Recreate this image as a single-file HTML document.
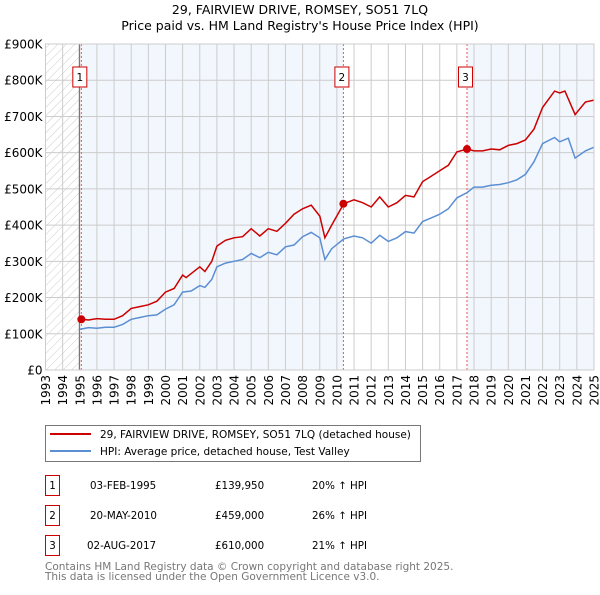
<!DOCTYPE html>
<html><head><meta charset="utf-8"><style>
body{margin:0;background:#fff;}
svg{font-family:"DejaVu Sans","Liberation Sans",sans-serif;}
</style></head><body>
<svg id="c" width="600" height="590" xmlns="http://www.w3.org/2000/svg">
<defs><pattern id="hatch" width="6" height="6" patternUnits="userSpaceOnUse" patternTransform="rotate(45)"><line x1="0" y1="0" x2="0" y2="6" stroke="#ccc" stroke-width="1"/></pattern></defs>
<text x="300" y="14" text-anchor="middle" font-size="12.5">29, FAIRVIEW DRIVE, ROMSEY, SO51 7LQ</text>
<text x="300" y="30" text-anchor="middle" font-size="12.5">Price paid vs. HM Land Registry's House Price Index (HPI)</text>
<g id="plot"></g>
<g>
<rect x="45.5" y="425.5" width="375" height="36" fill="#fff" stroke="#777"/>
<line x1="50" y1="434" x2="91" y2="434" stroke="#cc0000" stroke-width="2"/>
<text x="100" y="438" font-size="10.5">29, FAIRVIEW DRIVE, ROMSEY, SO51 7LQ (detached house)</text>
<line x1="50" y1="451" x2="91" y2="451" stroke="#5b8fd4" stroke-width="2"/>
<text x="100" y="455" font-size="10.5">HPI: Average price, detached house, Test Valley</text>
</g>
<g font-size="10.3">
<rect x="45.5" y="475.5" width="14" height="20" fill="#fff" stroke="#c00"/><text x="52.5" y="489" text-anchor="middle">1</text>
<text x="90" y="489">03-FEB-1995</text><text x="215" y="489">£139,950</text><text x="312" y="489">20% ↑ HPI</text>
<rect x="45.5" y="505.5" width="14" height="20" fill="#fff" stroke="#c00"/><text x="52.5" y="519" text-anchor="middle">2</text>
<text x="90" y="519">20-MAY-2010</text><text x="215" y="519">£459,000</text><text x="312" y="519">26% ↑ HPI</text>
<rect x="45.5" y="535.5" width="14" height="20" fill="#fff" stroke="#c00"/><text x="52.5" y="549" text-anchor="middle">3</text>
<text x="87" y="549">02-AUG-2017</text><text x="215" y="549">£610,000</text><text x="312" y="549">21% ↑ HPI</text>
</g>
<text x="45" y="570" font-size="10.5" fill="#777">Contains HM Land Registry data © Crown copyright and database right 2025.</text>
<text x="45" y="580" font-size="10.5" fill="#777">This data is licensed under the Open Government Licence v3.0.</text>
</svg>
<script>
const hpiYears=[1995.0,1995.5,1996,1996.5,1997,1997.5,1998,1998.5,1999,1999.5,2000,2000.5,2001,2001.5,2002,2002.3,2002.7,2003,2003.5,2004,2004.5,2005,2005.5,2006,2006.5,2007,2007.5,2008,2008.5,2009,2009.3,2009.7,2010.4,2011,2011.5,2012,2012.5,2013,2013.5,2014,2014.5,2015,2015.5,2016,2016.5,2017,2017.6,2018,2018.5,2019,2019.5,2020,2020.5,2021,2021.5,2022,2022.7,2023,2023.5,2023.9,2024.5,2025];
const hpiValues=[112,117,115,118,118,126,140,145,150,152,168,180,215,218,233,228,250,285,295,300,305,322,310,325,318,340,345,368,380,365,305,335,362,370,365,350,372,355,365,382,378,410,420,430,445,475,490,505,505,510,512,517,525,540,575,625,642,630,640,585,605,615];
const priceYears=[1995.1,1995.5,1996,1996.5,1997,1997.5,1998,1998.5,1999,1999.5,2000,2000.5,2001,2001.2,2002,2002.3,2002.7,2003,2003.5,2004,2004.5,2005,2005.5,2006,2006.5,2007,2007.5,2008,2008.5,2009,2009.3,2009.7,2010.4,2011,2011.5,2012,2012.5,2013,2013.5,2014,2014.5,2015,2015.5,2016,2016.5,2017,2017.6,2018,2018.5,2019,2019.5,2020,2020.5,2021,2021.5,2022,2022.7,2023,2023.3,2023.9,2024.5,2025];
const priceValues=[140,138,142,140,140,150,170,175,180,190,215,225,262,255,285,272,300,342,358,365,368,390,370,390,383,405,430,445,455,425,365,400,459,470,462,450,478,450,462,482,478,520,535,550,565,602,610,605,605,610,608,620,625,635,665,725,770,765,770,705,740,745];
const sales=[[1995.09,139.95],[2010.38,459],[2017.59,610]];
const yTicks=[0,100,200,300,400,500,600,700,800,900];
const yTickLabels=["£0","£100K","£200K","£300K","£400K","£500K","£600K","£700K","£800K","£900K"];
const NS="http://www.w3.org/2000/svg";
const X0=45.5,X1=594,Y0=370,Y1=44;
const x=y=>X0+(y-1993)/(2025-1993)*(X1-X0);
const yv=v=>Y0-v/900*(Y0-Y1);
const g=document.getElementById('plot');
function mk(t,a,p){const e=document.createElementNS(NS,t);for(const k in a)e.setAttribute(k,a[k]);(p||g).appendChild(e);return e;}
let e;
e=mk('rect',{x:X0,y:Y1,width:X1-X0,height:Y0-Y1,fill:'#fff'});
e=mk('rect',{x:x(1995.09),y:Y1,width:x(2010.38)-x(1995.09),height:Y0-Y1,fill:'#f2f6fd'});

e=mk('rect',{x:x(2017.59),y:Y1,width:X1-x(2017.59),height:Y0-Y1,fill:'#f2f6fd'});

e=mk('rect',{x:X0,y:Y1,width:x(1995.09)-X0,height:Y0-Y1,fill:'url(#hatch)'});

for(let yr=1993;yr<=2025;yr++){
 e=mk('line',{x1:x(yr),x2:x(yr),y1:Y1,y2:Y0,stroke:'#ccc','stroke-width':1});
 
 const t=mk('text',{x:0,y:0,'font-size':12,'text-anchor':'end',transform:`translate(${x(yr)+4.5},${Y0+5}) rotate(-90)`});
 t.textContent=yr;
 
}
yTicks.forEach((v,i)=>{
 e=mk('line',{x1:X0,x2:X1,y1:yv(v),y2:yv(v),stroke:'#ccc','stroke-width':1});
 
 const t=mk('text',{x:X0-3,y:yv(v)+4.5,'font-size':12,'text-anchor':'end'});
 t.textContent=yTickLabels[i];
 
});
e=mk('line',{x1:x(1995.09)-2,x2:x(1995.09)-2,y1:Y1,y2:Y0,stroke:'#666','stroke-width':1});
function path(xs,vs){return xs.map((a,i)=>(i?'L':'M')+x(a).toFixed(1)+','+yv(vs[i]).toFixed(1)).join('');}
sales.forEach((s,i)=>{
 e=mk('line',{x1:x(s[0]),x2:x(s[0]),y1:Y1,y2:Y0,stroke:'#e55','stroke-width':1,'stroke-dasharray':'2,2'});
 
});
e=mk('path',{d:path(hpiYears,hpiValues),fill:'none',stroke:'#5b8fd4','stroke-width':1.5});

e=mk('path',{d:path(priceYears,priceValues),fill:'none',stroke:'#cc0000','stroke-width':1.5});

sales.forEach((s,i)=>{
 e=mk('circle',{cx:x(s[0]),cy:yv(s[1]),r:4,fill:'#cc0000'});
 
 e=mk('rect',{x:x(s[0])-8.5,y:67,width:14,height:20,fill:'#fff',stroke:'#c00'});
 
 const t=mk('text',{x:x(s[0])-1.5,y:81,'font-size':10.5,'text-anchor':'middle'});
 t.textContent=i+1;
 
});
e=mk('rect',{x:X0,y:Y1,width:X1-X0,height:Y0-Y1,fill:'none',stroke:'#ccc'});
</script>
</body></html>
